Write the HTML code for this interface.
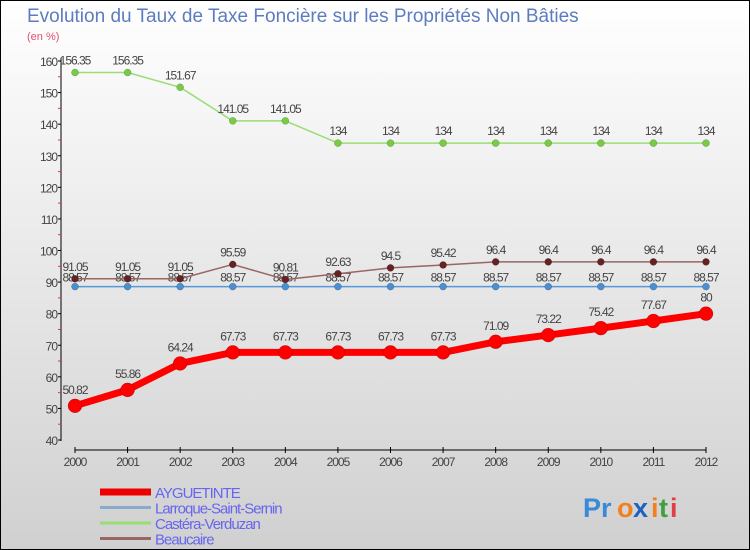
<!DOCTYPE html>
<html><head><meta charset="utf-8"><style>
body{margin:0;}
#wrap{position:relative;width:750px;height:550px;overflow:hidden;}
svg text{font-family:"Liberation Sans",sans-serif;}
</style></head><body>
<div id="wrap">
<svg id="chart" width="750" height="550" viewBox="0 0 750 550">
<defs><linearGradient id="bg" x1="0" y1="0" x2="0" y2="1"><stop offset="0" stop-color="#ffffff"/><stop offset="1" stop-color="#d0d0d0"/></linearGradient></defs>
<rect x="0.5" y="0.5" width="749" height="549" fill="url(#bg)" stroke="#000"/>
<text x="27" y="22" font-size="19" fill="#5b7cc0">Evolution du Taux de Taxe Foncière sur les Propriétés Non Bâties</text>
<text x="27" y="40" font-size="11" fill="#e05070">(en %)</text>
<g id="axes"></g>
<g id="series"></g>
<g id="legend"></g>
<g font-size="27" font-weight="bold">
<text x="583" y="517" fill="#3a8ad8">Pr</text><text x="617" y="517" fill="#f08020">o</text><text x="633" y="517" fill="#2060c0">x</text><text x="651" y="517" fill="#f08020">i</text><text x="659" y="517" fill="#40a040">t</text><text x="670" y="517" fill="#e04040">i</text>
</g>
</svg></div>
<script>
const years=[2000,2001,2002,2003,2004,2005,2006,2007,2008,2009,2010,2011,2012];
const ayguetinte=[50.82,55.86,64.24,67.73,67.73,67.73,67.73,67.73,71.09,73.22,75.42,77.67,80];
const larroque=[88.57,88.57,88.57,88.57,88.57,88.57,88.57,88.57,88.57,88.57,88.57,88.57,88.57];
const castera=[156.35,156.35,151.67,141.05,141.05,134,134,134,134,134,134,134,134];
const beaucaire=[91.05,91.05,91.05,95.59,90.81,92.63,94.5,95.42,96.4,96.4,96.4,96.4,96.4];
const yTicks=[40,50,60,70,80,90,100,110,120,130,140,150,160];
const NS="http://www.w3.org/2000/svg";
function X(i){return 75+(706-75)*i/(years.length-1);}
function Y(v){return 440-(v-40)*(440-61)/120;}
function mk(tag,attrs,parent){const e=document.createElementNS(NS,tag);for(const k in attrs)e.setAttribute(k,attrs[k]);parent.appendChild(e);return e;}
const axes=document.getElementById('axes');
let a=mk('line',{x1:61,y1:58,x2:61,y2:441,stroke:'#000'},axes);


yTicks.forEach(t=>{
  mk('line',{x1:58,x2:61,y1:Y(t),y2:Y(t),stroke:'#000'},axes);
  if(t<160)mk('line',{x1:58,x2:61,y1:Y(t+5),y2:Y(t+5),stroke:'#f03030'},axes);
  const tx=mk('text',{x:57,y:Y(t)+5,'font-size':12,fill:'#444','text-anchor':'end','letter-spacing':'-1'},axes);
  tx.textContent=t;
  
  
});
a=mk('line',{x1:75,y1:450,x2:706,y2:450,stroke:'#000'},axes);


years.forEach((y,i)=>{
  mk('line',{x1:X(i),x2:X(i),y1:447,y2:453,stroke:'#000'},axes);
  const tx=mk('text',{x:X(i),y:466,'font-size':12,fill:'#444','text-anchor':'middle','letter-spacing':'-1'},axes);
  tx.textContent=y;
  
  
});
const ser=document.getElementById('series');
function draw(data,name,color,w,r,dot,labOff){
  const g=mk('g',{},ser);
  
  
  const pts=data.map((v,i)=>X(i)+','+Y(v)).join(' ');
  mk('polyline',{points:pts,fill:'none',stroke:color,'stroke-width':w,'stroke-linejoin':'round'},g);
  data.forEach((v,i)=>{
    const c=mk('circle',{cx:X(i),cy:Y(v),r:r,fill:dot,stroke:'rgba(0,0,0,0.3)','stroke-width':0.5},g);
    
    
    const t=mk('text',{x:X(i),y:Y(v)+labOff,'font-size':12,fill:'#444','text-anchor':'middle','letter-spacing':'-1'},g);
    t.textContent=v;
    
    
  });
}
draw(larroque,'larroque','#5599dd',1.5,3.5,'#4a90d0',-5);
draw(castera,'castera','#99dd77',1.5,3.5,'#77cc44',-8);
draw(beaucaire,'beaucaire','#996666',1.5,3.5,'#662222',-8);
draw(ayguetinte,'ayguetinte','#ff0000',7,7,'#ff0000',-12);
const leg=document.getElementById('legend');
const names=['AYGUETINTE','Larroque-Saint-Sernin','Castéra-Verduzan','Beaucaire'];
const cols=['#ee0000','#88aacc','#99dd77','#996666'];
const ws=[7,3,3,3];
names.forEach((n,i)=>{
  const g=mk('g',{},leg);
  
  
  const yy=492+i*15.5;
  mk('rect',{x:100,y:yy-ws[i]/2,width:51,height:ws[i],fill:cols[i]},g);
  const t=mk('text',{x:155,y:yy+6,'font-size':15,fill:'#6666ee','letter-spacing':'-1'},g);
  t.textContent=n;
});
</script>
</body></html>
